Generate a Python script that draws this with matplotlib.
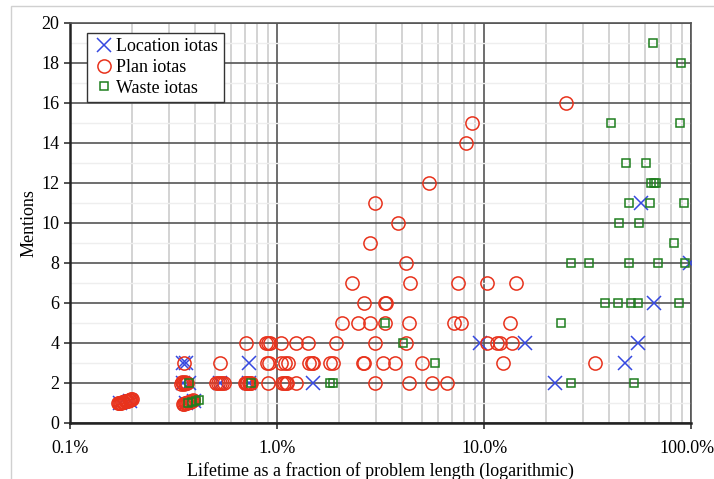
from matplotlib import pyplot as plt
from matplotlib.patches import Rectangle
from matplotlib.transforms import ScaledTranslation
from matplotlib.ticker import FixedLocator, FuncFormatter, LogLocator, NullFormatter, MultipleLocator

plt.rcParams['font.family'] = ['Liberation Serif', 'DejaVu Serif']

# lifetime in percent of problem length, mentions count
location_x = [0.174, 0.196, 0.362, 0.395, 0.35, 0.375, 0.53, 0.73, 1.50, 22.0,
              0.352, 0.362, 0.73, 48.0, 9.6, 15.8, 55.2, 66.0, 99.0, 57.0]
location_y = [1, 1.1, 1, 1.1, 2, 2, 2, 2, 2, 2,
              3, 3, 3, 3, 4, 4, 4, 6, 8, 11]

plan_x = [0.170, 0.172, 0.174, 0.176, 0.178, 0.180, 0.182, 0.184, 0.186, 0.188, 0.190,
          0.192, 0.194, 0.196, 0.198, 0.200,
          0.352, 0.356, 0.360, 0.364, 0.368, 0.372, 0.376, 0.380, 0.384, 0.388, 0.392,
          0.345, 0.348, 0.352, 0.356, 0.360, 0.364, 0.368, 0.51, 0.52, 0.53, 0.54, 0.555,
          0.70, 0.71, 0.72, 0.73, 0.74, 0.75, 0.90, 1.06, 1.08, 1.10, 1.12, 1.24,
          2.96, 4.33, 5.61, 6.65,
          0.356, 0.53, 0.89, 0.91, 1.05, 1.09, 1.13, 1.42, 1.47, 1.50, 1.80, 1.87,
          2.61, 2.64, 3.25, 3.71, 5.04, 12.4, 34.4,
          0.71, 0.88, 0.90, 0.92, 1.05, 1.24, 1.41, 1.93, 2.96, 4.20, 10.3, 11.5, 12.0, 13.7,
          2.05, 2.45, 2.80, 3.32, 4.33, 7.19, 7.74, 13.3,
          2.64, 3.32, 3.35,
          2.29, 4.38, 7.52, 10.3, 14.3,
          4.20, 2.80, 3.85, 2.97, 5.42, 8.2, 8.75, 25.0]
plan_y = [0.98, 1.0, 1.0, 1.02, 1.03, 1.05, 1.06, 1.08, 1.1, 1.1, 1.12,
          1.13, 1.15, 1.16, 1.18, 1.2,
          0.95, 0.97, 0.98, 1.0, 1.02, 1.04, 1.05, 1.07, 1.1, 1.12, 1.14,
          1.95, 2.05, 2, 1.95, 2.05, 2, 2, 2, 2, 2, 2, 2,
          2, 2, 2, 2, 2, 2, 2, 2, 2, 2, 2, 2,
          2, 2, 2, 2,
          3, 3, 3, 3, 3, 3, 3, 3, 3, 3, 3, 3,
          3, 3, 3, 3, 3, 3, 3,
          4, 4, 4, 4, 4, 4, 4, 4, 4, 4, 4, 4, 4, 4,
          5, 5, 5, 5, 5, 5, 5, 5,
          6, 6, 6,
          7, 7, 7, 7, 7,
          8, 9, 10, 11, 12, 14, 15, 16]

waste_x = [0.37, 0.387, 0.406, 0.42,
           0.377, 0.746, 1.80, 1.86, 26.4, 52.8,
           5.78, 4.07, 3.32, 23.5,
           38.3, 44.2, 51.2, 55.6, 86.9,
           26.4, 32.2, 50.1, 68.8, 93.5,
           82.2, 44.7, 56.1, 50.1, 63.4, 92.2,
           64.1, 65.8, 67.5, 48.3, 60.8, 40.9, 88.2, 89.5, 65.3]
waste_y = [1.0, 1.05, 1.1, 1.15,
           2, 2, 2, 2, 2, 2,
           3, 4, 5, 5,
           6, 6, 6, 6, 6,
           8, 8, 8, 8, 8,
           9, 10, 10, 11, 11, 11,
           12, 12, 12, 13, 13, 15, 15, 18, 19]

fig = plt.figure(figsize=(7.14, 4.79), dpi=100)
# light chart-area border like the spreadsheet export
fig.patches.append(Rectangle((11 / 714, -0.1), 1.2, 1.1 - 6 / 479, transform=fig.transFigure,
                             fill=False, edgecolor='#d0d0d0', lw=1.0))
ax = fig.add_axes([0.098, 0.117, 0.870, 0.835])

ax.plot(location_x, location_y, 'x', color='#3548e0', markersize=9.5, mew=1.1,
        label='Location iotas', zorder=3)
ax.plot(plan_x, plan_y, 'o', color='#e8321c', mfc='none', markersize=9.5, mew=1.1,
        label='Plan iotas', zorder=4)
ax.plot(waste_x, waste_y, 's', color='#1e7f1e', mfc='none', markersize=5.8, mew=1.1,
        label='Waste iotas', zorder=5)

ax.set_xscale('log')
ax.set_xlim(0.1, 100)
ax.set_ylim(0, 20)

ax.xaxis.set_major_locator(FixedLocator([0.1, 1, 10, 100]))
ax.xaxis.set_major_formatter(FuncFormatter(lambda v, pos: '%.1f%%' % v))
ax.xaxis.set_minor_locator(LogLocator(base=10, subs=range(2, 10)))
ax.xaxis.set_minor_formatter(NullFormatter())
ax.yaxis.set_major_locator(MultipleLocator(2))
ax.yaxis.set_minor_locator(MultipleLocator(1))

ax.grid(which='major', axis='both', color='#555555', lw=1.2, zorder=1)
ax.grid(which='minor', axis='x', color='#cccccc', lw=1.2, zorder=0)
ax.grid(which='minor', axis='y', color='#eeeeee', lw=1.0, zorder=0)
ax.set_axisbelow(True)

ax.tick_params(which='major', direction='out', length=4, width=1.2, color='#333333', labelsize=13)
ax.tick_params(axis='x', which='major', pad=8)
ax.tick_params(which='minor', length=0)
for side in ax.spines.values():
    side.set_color('#555555')
    side.set_linewidth(1.2)
ax.spines['left'].set_color('#222222')
ax.spines['bottom'].set_color('#222222')
ax.spines['left'].set_linewidth(1.8)
ax.spines['bottom'].set_linewidth(1.8)

ax.set_xlabel('Lifetime as a fraction of problem length (logarithmic)', fontsize=13, labelpad=4)
ax.set_ylabel('Mentions', fontsize=13, labelpad=3)

# keep the last tick label inside the picture
fig.canvas.draw()
last = ax.get_xticklabels()[-1]
last.set_transform(last.get_transform() + ScaledTranslation(-4 / 100, 0, fig.dpi_scale_trans))

leg = ax.legend(loc='upper left', bbox_to_anchor=(0.028, 0.975), fontsize=13, fancybox=False,
                framealpha=1, edgecolor='#333333', handletextpad=0.1, borderpad=0.3,
                labelspacing=0.2, handlelength=1.2, borderaxespad=0)
leg.get_frame().set_linewidth(1.0)

fig.savefig('out.png', dpi=100)
